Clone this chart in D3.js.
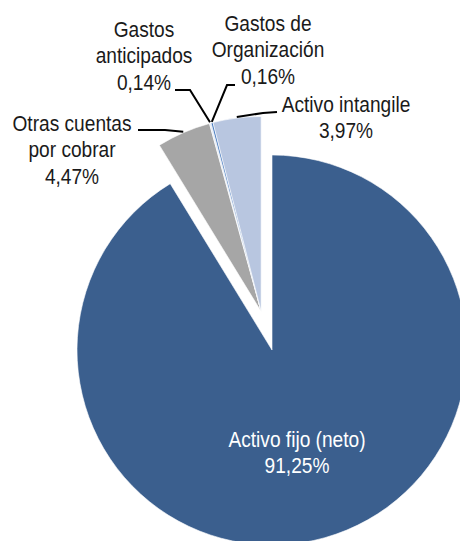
<!DOCTYPE html>
<html>
<head>
<meta charset="utf-8">
<script src="https://cdn.jsdelivr.net/npm/d3@7"></script>
<style>
  body { margin: 0; background: #fff; }
  text { font-family: "Liberation Sans", Arial, sans-serif; font-size: 22.5px; }
</style>
</head>
<body>
<svg width="460" height="541"></svg>
<script>
// data
var categories = [["Activo fijo (neto)"], ["Otras cuentas", "por cobrar"], ["Gastos", "anticipados"], ["Gastos de", "Organización"], ["Activo intangile"]];
var values = [91.25, 4.47, 0.14, 0.16, 3.97];
var colors = ["#3b5f8e", "#a6a6a6", "#e4eaf4", "#4a7cc0", "#b8c6e0"];

// label layout: text anchor x, first baseline y, leader elbow and end
var labelPos = [
  {x: 297, y: 447},
  {x: 72, y: 131, elbow: [165, 130], end: [138, 130]},
  {x: 144, y: 37, elbow: [190, 90], end: [175, 90]},
  {x: 268, y: 31, elbow: [227, 85], end: [235, 85]},
  {x: 346, y: 112, elbow: [263, 113], end: [277, 112]}
];

var svg = d3.select("svg"),
    cx = 272, cy = 350, radius = 195, explode = 40, lineH = 26.5,
    narrow = 0.85; // squeeze text to look like a narrow font

var locale = d3.formatLocale({decimal: ",", thousands: ".", grouping: [3], currency: ["", ""]});
var fmt = locale.format(".2f");

var data = values.map(function(v, i) { return {name: categories[i], value: v, color: colors[i]}; });

var pie = d3.pie().sort(null).value(function(d) { return d.value; });
var arcs = pie(data);

var arc = d3.arc().innerRadius(0).outerRadius(radius);

// the small slices are pulled out together
var smallStart = arcs[1].startAngle, smallEnd = arcs[arcs.length - 1].endAngle;
var midSmall = (smallStart + smallEnd) / 2;
var off = [explode * Math.sin(midSmall), -explode * Math.cos(midSmall)];

var g = svg.append("g").attr("transform", "translate(" + cx + "," + cy + ")");

g.selectAll("path.slice")
  .data(arcs)
  .enter().append("path")
    .attr("class", "slice")
    .attr("d", arc)
    .attr("transform", function(d, i) { return i === 0 ? null : "translate(" + off[0] + "," + off[1] + ")"; })
    .attr("fill", function(d) { return d.data.color; })
    .attr("stroke", "#fff")
    .attr("stroke-width", 0.6);

// leader lines
arcs.forEach(function(d, i) {
  var p = labelPos[i];
  if (!p.elbow) return;
  var a = (d.startAngle + d.endAngle) / 2;
  var sx = cx + off[0] + (radius + 1) * Math.sin(a),
      sy = cy + off[1] - (radius + 1) * Math.cos(a);
  svg.append("polyline")
    .attr("points", [[sx, sy], p.elbow, p.end].map(function(q) { return q.join(","); }).join(" "))
    .attr("fill", "none")
    .attr("stroke", "#000")
    .attr("stroke-width", 2);
});

// labels
arcs.forEach(function(d, i) {
  var p = labelPos[i];
  var lines = d.data.name.concat([fmt(d.data.value) + "%"]);
  var t = svg.append("g")
    .attr("transform", "translate(" + p.x + "," + p.y + ") scale(" + narrow + ",1)")
    .append("text")
    .attr("text-anchor", "middle")
    .attr("fill", i === 0 ? "#fff" : "#1a1a1a");
  lines.forEach(function(s, j) {
    t.append("tspan").attr("x", 0).attr("y", j * lineH).text(s);
  });
});
</script>
</body>
</html>
